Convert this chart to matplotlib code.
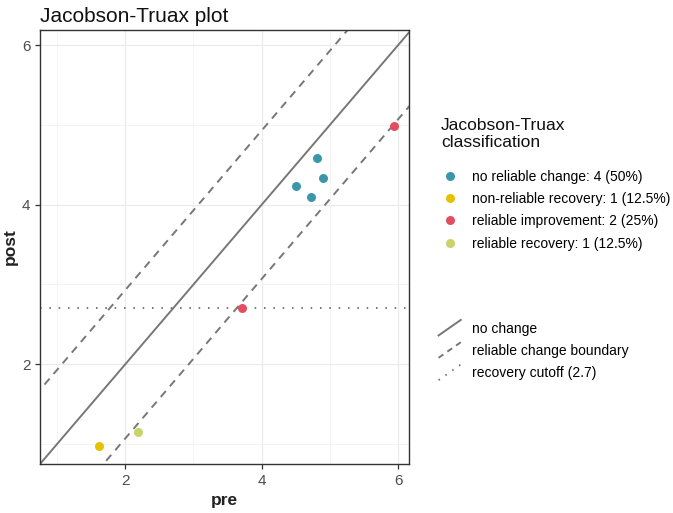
import matplotlib
matplotlib.use("Agg")
import matplotlib.pyplot as plt
from matplotlib.lines import Line2D
from matplotlib.legend_handler import HandlerBase
import numpy as np

plt.rcParams['font.family'] = ['Liberation Sans', 'DejaVu Sans']

# ---- data ----
categories = ["no reliable change: 4 (50%)", "non-reliable recovery: 1 (12.5%)",
              "reliable improvement: 2 (25%)", "reliable recovery: 1 (12.5%)"]
colors = ["#3A97AA", "#E5C100", "#E24E60", "#C9D468"]
pre = [4.50, 4.81, 4.90, 4.72, 1.61, 5.94, 3.71, 2.19]
post = [4.23, 4.59, 4.34, 4.10, 0.98, 4.99, 2.71, 1.15]
group = [0, 0, 0, 0, 1, 2, 2, 3]
rc_boundary = 0.93
cutoff = 2.7
xticks = [2, 4, 6]
yticks = [2, 4, 6]
xlim = (0.75, 6.16)
ylim = (0.75, 6.19)

fig = plt.figure(figsize=(6.73, 5.13), dpi=100)
ax = fig.add_axes([40/673, 49/513, 369/673, 434/513])

ax.set_xlim(*xlim)
ax.set_ylim(*ylim)
ax.set_xticks(xticks)
ax.set_yticks(yticks)
ax.set_xticks([1, 3, 5], minor=True)
ax.set_yticks([1, 3, 5], minor=True)
ax.grid(True, which='major', color='#EBEBEB', lw=0.9, zorder=0)
ax.grid(True, which='minor', color='#F2F2F2', lw=0.6, zorder=0)
ax.tick_params(which='minor', length=0)
ax.tick_params(which='major', length=3.5, width=0.9, color='#333333',
               labelcolor='#4D4D4D', labelsize=11)
for s in ax.spines.values():
    s.set_color('#333333')
    s.set_linewidth(1.0)

lc = '#777777'
xs = np.array([-1, 8])
ax.plot(xs, xs, color=lc, lw=1.4, zorder=2)
ax.plot(xs, xs + rc_boundary, color=lc, lw=1.4, ls=(0, (4, 3.2)), zorder=2)
ax.plot(xs, xs - rc_boundary, color=lc, lw=1.4, ls=(0, (4, 3.2)), zorder=2)
ax.axhline(cutoff, color=lc, lw=1.4, ls=(0, (0.8, 4)), zorder=2)

for gi, (lab, col) in enumerate(zip(categories, colors)):
    px = [p for p, g in zip(pre, group) if g == gi]
    py = [q for q, g in zip(post, group) if g == gi]
    ax.scatter(px, py, s=42, color=col, zorder=3, linewidths=0)

ax.set_xlabel("pre", fontsize=12.5, fontweight='bold', color='#222222', labelpad=4)
ax.set_ylabel("post", fontsize=12.5, fontweight='bold', color='#222222')
ax.yaxis.set_label_coords(-22/369, 0.5)
fig.text(40/673, 1 - 17/513, "Jacobson-Truax plot", fontsize=15, va='center', ha='left', color='#111111')

# legend 1: points
fig.text(441/673, 1 - 125/513, "Jacobson-Truax", fontsize=12.5, va='center', ha='left', color='#111111')
fig.text(441/673, 1 - 143/513, "classification", fontsize=12.5, va='center', ha='left', color='#111111')
h1 = [Line2D([], [], ls='', marker='o', markersize=6.5, color=c, markeredgewidth=0) for c in colors]
leg1 = fig.legend(h1, categories, loc='upper left', bbox_to_anchor=(433/673, 1 - 164/513),
                  frameon=False, fontsize=10, handlelength=1.6, handletextpad=0.8,
                  labelspacing=0.6, borderaxespad=0)

class DiagHandler(HandlerBase):
    def __init__(self, ls):
        super().__init__()
        self.ls = ls
    def create_artists(self, legend, orig_handle, xdescent, ydescent, width, height, fontsize, trans):
        l = Line2D([-xdescent, -xdescent + width], [-ydescent - 0.3*height, -ydescent + 1.3*height],
                   color=lc, lw=1.4, ls=self.ls, transform=trans)
        return [l]

hl = [Line2D([], []), Line2D([], []), Line2D([], [])]
hl_labels = ["no change", "reliable change boundary", "recovery cutoff (2.7)"]
leg2 = fig.legend(hl, hl_labels, loc='upper left', bbox_to_anchor=(433/673, 1 - 316/513),
                  frameon=False, fontsize=10, handlelength=1.6, handletextpad=0.8,
                  labelspacing=0.6, borderaxespad=0,
                  handler_map={hl[0]: DiagHandler('-'), hl[1]: DiagHandler((0, (3, 2.5))),
                               hl[2]: DiagHandler((0, (0.8, 3.5)))})

fig.savefig("out.png", dpi=100)
